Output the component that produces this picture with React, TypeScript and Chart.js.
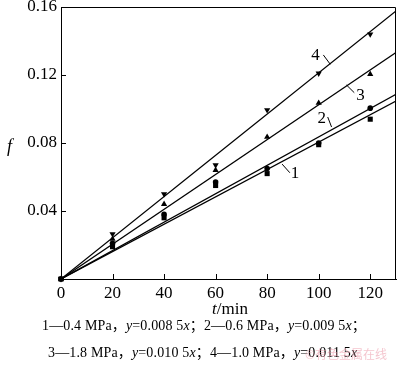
import React, { useEffect, useRef } from "react";
import { Chart, registerables } from "chart.js";

Chart.register(...registerables);

const times = [0, 20, 40, 60, 80, 100, 120];
const series1 = [0, 0.019, 0.036, 0.055, 0.062, 0.079, 0.094];
const series2 = [0, 0.021, 0.038, 0.057, 0.065, 0.080, 0.1005];
const series3 = [0, 0.0235, 0.044, 0.064, 0.0835, 0.1035, 0.1205];
const series4 = [0, 0.0265, 0.050, 0.067, 0.0994, 0.121, 0.144];

const lineEndT = 130;
const lineEnds = [0.1047, 0.1087, 0.1332, 0.1577];

const xTicks = [0, 20, 40, 60, 80, 100, 120];
const yTicks = [0.04, 0.08, 0.12, 0.16];

const seriesLabels = ["1", "2", "3", "4"];
const labelPos = [
  [90.8, 0.0618],
  [101.2, 0.0944],
  [116.2, 0.1079],
  [98.8, 0.1312],
];
const leaderLines = [
  [85.8, 0.0676, 88.8, 0.0625],
  [103.5, 0.0953, 105.0, 0.0894],
  [110.8, 0.1141, 113.8, 0.1096],
  [101.8, 0.1318, 104.5, 0.1263],
];

const captionLines = [
  ["1—0.4 MPa，", "y", "=0.008 5", "x", "；2—0.6 MPa，", "y", "=0.009 5", "x", "；"],
  ["3—1.8 MPa，", "y", "=0.010 5", "x", "；4—1.0 MPa，", "y", "=0.011 5", "x", ""],
];

const SERIF = "'Liberation Serif', 'DejaVu Serif', serif";
const CAPFONT = "'Liberation Serif', 'Noto Sans CJK SC', serif";

const decorPlugin = {
  id: "decor",
  afterDraw(chart: any) {
    const ctx = chart.ctx;
    const { left, right, top, bottom } = chart.chartArea;
    const xs = chart.scales.x;
    const ys = chart.scales.y;
    ctx.save();
    ctx.strokeStyle = "#000";
    ctx.lineWidth = 1;
    ctx.beginPath();
    ctx.moveTo(left, top + 0.5);
    ctx.lineTo(right - 0.5, top + 0.5);
    ctx.lineTo(right - 0.5, bottom);
    ctx.stroke();
    // inner ticks
    ctx.beginPath();
    yTicks.forEach((v) => {
      const py = Math.round(ys.getPixelForValue(v)) + 0.5;
      ctx.moveTo(left, py);
      ctx.lineTo(left + 5, py);
    });
    xTicks.forEach((v) => {
      const px = Math.round(xs.getPixelForValue(v)) + 0.5;
      ctx.moveTo(px, bottom);
      ctx.lineTo(px, bottom - 5);
    });
    ctx.stroke();
    // leaders
    ctx.beginPath();
    leaderLines.forEach((l) => {
      ctx.moveTo(xs.getPixelForValue(l[0]), ys.getPixelForValue(l[1]));
      ctx.lineTo(xs.getPixelForValue(l[2]), ys.getPixelForValue(l[3]));
    });
    ctx.stroke();
    ctx.fillStyle = "#000";
    ctx.font = "17px " + SERIF;
    ctx.textAlign = "center";
    ctx.textBaseline = "middle";
    seriesLabels.forEach((s, i) => {
      ctx.fillText(s, xs.getPixelForValue(labelPos[i][0]), ys.getPixelForValue(labelPos[i][1]));
    });
    ctx.restore();
  },
};

function pts(vals: number[]) {
  return times.map((t, i) => ({ x: t, y: vals[i] }));
}

export default function App() {
  const ref = useRef<HTMLCanvasElement>(null);
  useEffect(() => {
    if (!ref.current) return;
    const lineDs = lineEnds.map((e) => ({
      type: "line" as const,
      data: [
        { x: 0, y: 0 },
        { x: lineEndT, y: e },
      ],
      borderColor: "#000",
      borderWidth: 1.3,
      pointRadius: 0,
      fill: false,
    }));
    const markerDs = [
      { data: pts(series1), pointStyle: "rect", pointRadius: 3.6, rot: 0 },
      { data: pts(series2), pointStyle: "circle", pointRadius: 2.8, rot: 0 },
      { data: pts(series3), pointStyle: "triangle", pointRadius: 3.6, rot: 0 },
      { data: pts(series4), pointStyle: "triangle", pointRadius: 3.6, rot: 180 },
    ].map((d) => ({
      type: "scatter" as const,
      data: d.data,
      showLine: false,
      clip: false,
      pointStyle: d.pointStyle,
      pointRadius: d.pointRadius,
      pointRotation: d.rot,
      backgroundColor: "#000",
      borderColor: "#000",
      borderWidth: 0,
    }));
    const chart = new Chart(ref.current, {
      type: "scatter",
      data: { datasets: [...lineDs, ...markerDs] as any },
      options: {
        animation: false,
        responsive: false,
        devicePixelRatio: 1,
        layout: { padding: { left: 0, right: 1, top: 7, bottom: 56 } },
        plugins: { legend: { display: false }, tooltip: { enabled: false } },
        scales: {
          x: {
            type: "linear",
            min: 0,
            max: 130,
            grid: { display: false, drawTicks: false },
            border: { display: true, color: "#000", width: 1 },
            ticks: {
              stepSize: 20,
              includeBounds: false,
              color: "#000",
              padding: 4,
              maxRotation: 0,
              font: { family: SERIF, size: 17 },
            },
            afterFit: (s: any) => {
              s.height = 30;
              s.paddingLeft = 0;
              s.paddingRight = 0;
            },
          },
          y: {
            type: "linear",
            min: 0,
            max: 0.16,
            grid: { display: false, drawTicks: false },
            border: { display: true, color: "#000", width: 1 },
            ticks: {
              stepSize: 0.04,
              color: "#000",
              padding: 4,
              font: { family: SERIF, size: 17 },
              callback: (v: any) => (v === 0 ? "" : Number(v).toFixed(2)),
            },
            afterFit: (s: any) => {
              s.width = 61;
              s.paddingTop = 0;
              s.paddingBottom = 0;
            },
          },
        },
      },
      plugins: [decorPlugin],
    });
    return () => chart.destroy();
  }, []);

  const capStyle = (top: number, left: number): React.CSSProperties => ({
    position: "absolute",
    top,
    left,
    fontFamily: CAPFONT,
    fontSize: 14,
    lineHeight: "16px",
    whiteSpace: "nowrap",
    color: "#000",
    letterSpacing: "0.15px",
  });

  return (
    <div style={{ position: "absolute", left: 0, top: 0, width: 400, height: 365, background: "#fff", overflow: "hidden" }}>
      <canvas ref={ref} width={400} height={365} style={{ position: "absolute", left: 0, top: 0 }} />
      <div style={{ position: "absolute", left: 7, top: 136, fontFamily: SERIF, fontSize: 18, fontStyle: "italic" }}>f</div>
      <div style={{ position: "absolute", left: 0, width: 460, top: 299, textAlign: "center", fontFamily: SERIF, fontSize: 17, lineHeight: "20px" }}>
        <i>t</i>/min
      </div>
      {captionLines.map((parts, li) => (
        <div key={li} style={capStyle(li === 0 ? 318 : 345, li === 0 ? 42 : 48)}>
          {parts.map((p, i) => (i % 2 === 1 ? <i key={i}>{p}</i> : <span key={i}>{p}</span>))}
        </div>
      ))}
      <div style={{ position: "absolute", left: 305, top: 345, fontFamily: "'Noto Sans CJK SC', sans-serif", fontSize: 12, color: "rgba(235,150,165,0.55)", whiteSpace: "nowrap" }}>
        ©有色金属在线
      </div>
    </div>
  );
}
